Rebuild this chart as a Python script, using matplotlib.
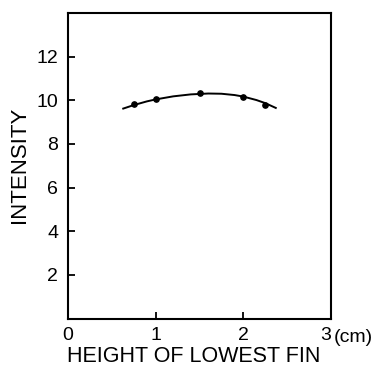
import numpy as np
import matplotlib.pyplot as plt

# Measured intensity vs height of lowest fin
fin_height = [0.75, 1.0, 1.5, 2.0, 2.25]
intensity = [9.85, 10.08, 10.33, 10.17, 9.77]

# Hand-drawn trend curve, read along its length
curve_x = [0.63, 0.75, 0.9, 1.0, 1.2, 1.4, 1.6, 1.75, 1.9, 2.0, 2.15, 2.25, 2.37]
curve_y = [9.62, 9.78, 9.95, 10.04, 10.18, 10.27, 10.31, 10.30, 10.24, 10.17, 10.01, 9.87, 9.65]

x_ticks = [0, 1, 2, 3]
x_labels = ["0", "1", "2", "3"]
y_ticks = [2, 4, 6, 8, 10, 12]

plt.rcParams['font.family'] = ['Liberation Sans', 'DejaVu Sans']

W, H = 388, 371
fig = plt.figure(figsize=(W / 100, H / 100), dpi=100)
ax = fig.add_axes([68 / W, 1 - 318.5 / H, (331 - 68) / W, (318.5 - 13) / H])

ax.plot(curve_x, curve_y, color='black', lw=1.4)
ax.plot(fin_height, intensity, 'o', color='black', ms=3.8)

ax.set_xlim(0, 3)
ax.set_ylim(0, 14)
ax.set_xticks(x_ticks)
ax.set_xticklabels(x_labels)
ax.set_yticks(y_ticks)
ax.tick_params(direction='in', length=5, width=1.3, labelsize=14)
ax.tick_params(axis='y', pad=7)
ax.tick_params(axis='x', pad=6)
for s in ax.spines.values():
    s.set_linewidth(1.5)

# last x label sits flush against the corner so "(cm)" can follow it
ax.get_xticklabels()[-1].set_horizontalalignment('right')

# unit tag after the last x tick, and the axis titles
fig.text(334 / W, 1 - 338 / H, "(cm)", fontsize=14, ha='left', va='center')
fig.text(194 / W, 1 - 357 / H, "HEIGHT OF LOWEST FIN", fontsize=15.5,
         ha='center', va='center')
fig.text(20 / W, 1 - 165 / H, "INTENSITY", fontsize=16, rotation=90,
         ha='center', va='center')

fig.savefig("out.png", dpi=100)
